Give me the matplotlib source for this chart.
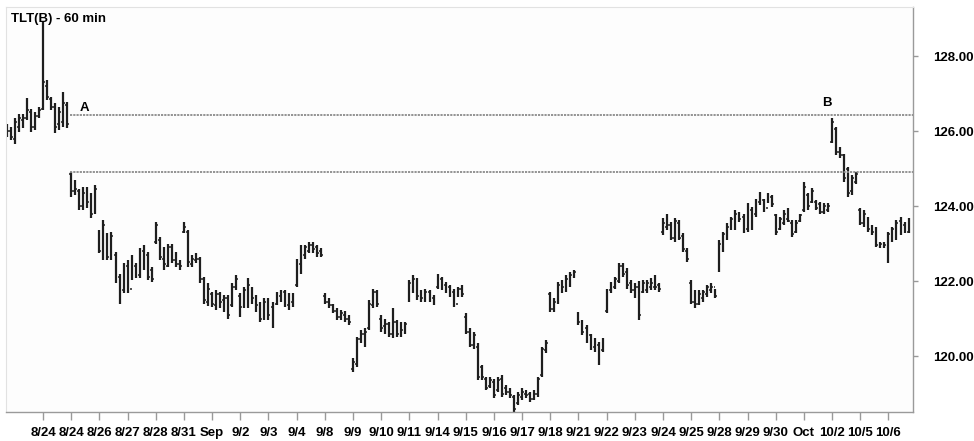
import numpy as np
import matplotlib
matplotlib.use("Agg")
import matplotlib.pyplot as plt

plt.rcParams['font.family'] = ['Liberation Sans', 'DejaVu Sans']

# hourly bars (7 bars per session)
highs = [
    126.20, 126.10, 126.35, 126.45, 126.45, 126.87, 126.60, 126.50, 126.65,
    128.94, 127.36, 126.92, 126.74, 126.65, 127.05, 126.78,
    124.92, 124.70, 124.45, 124.50, 124.50, 124.35, 124.56,
    123.36, 123.63, 123.27, 123.32, 122.78, 122.20, 122.47,
    122.56, 122.69, 122.47, 122.87, 122.96, 122.78, 122.38,
    123.58, 123.18, 122.91, 123.00, 123.00, 122.78, 122.56,
    123.58, 123.36, 122.69, 122.74, 122.65, 122.11, 121.94,
    121.72, 121.76, 121.72, 121.63, 121.63, 121.94, 122.16,
    121.67, 121.85, 122.07, 121.85, 121.63, 121.45, 121.54,
    121.54, 121.45, 121.72, 121.76, 121.76, 121.67, 121.67,
    122.60, 122.96, 122.96, 123.05, 123.05, 122.96, 122.87,
    121.67, 121.54, 121.40, 121.27, 121.23, 121.20, 121.10,
    119.94, 120.52, 120.69, 120.74, 121.49, 121.80, 121.76,
    121.09, 121.00, 120.92, 121.27, 120.96, 120.92, 120.92,
    122.03, 122.16, 122.07, 121.76, 121.80, 121.76, 121.63,
    122.20, 122.12, 121.98, 121.90, 121.80, 121.85, 121.90,
    121.14, 120.74, 120.65, 120.34, 119.76, 119.45, 119.45,
    119.40, 119.45, 119.49, 119.23, 119.14, 118.96, 119.05,
    119.14, 119.09, 119.05, 119.09, 119.45, 120.25, 120.43,
    121.72, 121.54, 121.98, 122.03, 122.16, 122.25, 122.29,
    121.18, 120.96, 120.83, 120.60, 120.47, 120.38, 120.47,
    121.80, 121.98, 122.12, 122.47, 122.47, 122.34, 122.03,
    121.94, 122.00, 122.03, 122.03, 122.07, 122.16, 121.94,
    123.67, 123.80, 123.58, 123.67, 123.62, 123.27, 122.87,
    122.03, 121.76, 121.76, 121.76, 121.90, 121.94, 121.80,
    123.09, 123.32, 123.54, 123.72, 123.89, 123.85, 123.80,
    124.07, 123.98, 124.20, 124.38, 124.20, 124.34, 124.29,
    123.80, 123.72, 123.89, 123.94, 123.62, 123.62, 123.80,
    124.65, 124.34, 124.47, 124.16, 124.12, 124.07, 124.07,
    126.34, 126.12, 125.58, 125.40, 125.05, 124.83, 124.92,
    123.94, 123.89, 123.72, 123.49, 123.45, 123.05, 123.05,
    123.32, 123.45, 123.63, 123.72, 123.58, 123.67,
]
lows = [
    125.85, 125.75, 125.65, 125.98, 126.07, 126.30, 125.98, 126.03, 126.34,
    126.56, 126.83, 126.56, 125.94, 126.03, 126.12, 126.07,
    124.25, 124.30, 123.90, 123.90, 123.95, 123.67, 123.80,
    122.74, 122.56, 122.56, 122.56, 121.94, 121.40, 121.67,
    121.67, 122.03, 122.07, 122.07, 122.29, 122.03, 121.98,
    123.00, 122.56, 122.29, 122.38, 122.47, 122.38, 122.29,
    123.27, 122.38, 122.38, 122.47, 121.94, 121.40, 121.33,
    121.31, 121.23, 121.27, 121.18, 121.00, 121.31, 121.76,
    121.05, 121.27, 121.27, 121.40, 121.18, 120.92, 120.96,
    120.96, 120.74, 121.36, 121.45, 121.31, 121.23, 121.31,
    121.85, 122.20, 122.60, 122.74, 122.74, 122.65, 122.65,
    121.40, 121.27, 121.14, 120.96, 120.96, 120.90, 120.83,
    119.58, 119.72, 120.34, 120.25, 120.69, 121.27, 121.31,
    120.65, 120.60, 120.52, 120.47, 120.52, 120.52, 120.60,
    121.45, 121.67, 121.49, 121.45, 121.45, 121.45, 121.36,
    121.80, 121.76, 121.67, 121.58, 121.31, 121.58, 121.58,
    120.60, 120.25, 120.20, 119.36, 119.36, 119.09, 119.14,
    118.87, 119.05, 118.92, 118.96, 118.87, 118.50, 118.70,
    118.83, 118.87, 118.78, 118.83, 118.92, 119.45, 120.07,
    121.18, 121.18, 121.40, 121.67, 121.72, 121.85, 122.07,
    120.83, 120.56, 120.34, 120.16, 120.12, 119.76, 120.12,
    121.14, 121.67, 121.80, 121.94, 122.12, 121.80, 121.67,
    121.55, 120.96, 121.67, 121.67, 121.76, 121.76, 121.72,
    123.23, 123.36, 123.09, 123.05, 123.09, 122.78, 122.52,
    121.40, 121.27, 121.36, 121.45, 121.58, 121.67, 121.54,
    122.25, 122.78, 123.09, 123.36, 123.36, 123.58, 123.27,
    123.32, 123.36, 123.72, 124.03, 123.85, 124.07, 123.98,
    123.23, 123.36, 123.49, 123.58, 123.18, 123.27, 123.58,
    123.85, 123.89, 124.07, 123.89, 123.80, 123.80, 123.85,
    125.67, 125.36, 125.27, 124.65, 124.25, 124.29, 124.60,
    123.49, 123.45, 123.32, 123.23, 122.91, 122.87, 122.87,
    122.47, 123.05, 123.09, 123.23, 123.27, 123.27,
]
opens = [
    126.10, 126.00, 125.80, 126.10, 126.30, 126.35, 126.50, 126.10, 126.40,
    126.60, 127.20, 126.85, 126.65, 126.20, 126.25, 126.70,
    124.85, 124.40, 124.40, 124.00, 124.40, 124.20, 123.85,
    123.30, 122.80, 123.20, 122.70, 122.70, 122.10, 121.75,
    122.40, 121.80, 122.40, 122.15, 122.80, 122.70, 122.30,
    123.05, 123.10, 122.60, 122.40, 122.90, 122.55, 122.45,
    123.30, 123.30, 122.45, 122.55, 122.60, 122.05, 121.45,
    121.65, 121.35, 121.65, 121.50, 121.55, 121.35, 121.85,
    121.60, 121.35, 121.40, 121.80, 121.55, 121.40, 121.00,
    121.45, 121.30, 121.40, 121.60, 121.70, 121.35, 121.45,
    121.90, 122.45, 122.70, 122.80, 122.95, 122.90, 122.80,
    121.60, 121.45, 121.35, 121.20, 121.05, 121.10, 121.00,
    119.65, 119.80, 120.45, 120.60, 120.75, 121.35, 121.70,
    121.00, 120.80, 120.85, 120.60, 120.90, 120.60, 120.65,
    121.50, 121.90, 122.00, 121.60, 121.55, 121.70, 121.55,
    121.85, 122.05, 121.90, 121.85, 121.70, 121.40, 121.80,
    121.05, 120.65, 120.30, 120.25, 119.70, 119.40, 119.20,
    119.30, 119.10, 119.40, 119.15, 119.05, 118.90, 118.75,
    118.90, 119.00, 119.00, 118.85, 119.00, 119.50, 120.15,
    121.65, 121.25, 121.45, 121.75, 121.80, 121.95, 122.15,
    121.10, 120.90, 120.75, 120.55, 120.25, 120.30, 120.15,
    121.20, 121.75, 121.85, 122.00, 122.40, 122.25, 121.95,
    121.75, 121.85, 121.70, 121.75, 121.85, 121.85, 121.90,
    123.30, 123.45, 123.50, 123.15, 123.55, 123.20, 122.80,
    121.95, 121.45, 121.40, 121.55, 121.65, 121.75, 121.85,
    122.30, 122.90, 123.15, 123.40, 123.45, 123.75, 123.70,
    123.40, 123.90, 123.80, 124.10, 124.15, 123.95, 124.25,
    123.75, 123.40, 123.55, 123.65, 123.55, 123.30, 123.60,
    123.90, 124.30, 124.10, 124.10, 124.05, 123.85, 123.90,
    125.70, 126.05, 125.45, 125.35, 125.00, 124.40, 124.65,
    123.90, 123.55, 123.65, 123.40, 123.40, 122.95, 122.95,
    122.95, 123.10, 123.15, 123.60, 123.50, 123.30,
]
closes = [
    126.00, 125.85, 126.25, 126.35, 126.35, 126.55, 126.10, 126.40, 126.55,
    127.30, 126.90, 126.65, 126.10, 126.50, 126.75, 126.20,
    124.40, 124.45, 124.00, 124.35, 124.10, 123.80, 124.45,
    122.80, 123.50, 122.65, 123.20, 122.05, 121.50, 122.40,
    121.75, 122.55, 122.15, 122.80, 122.70, 122.10, 122.05,
    123.50, 122.65, 122.45, 122.90, 122.55, 122.45, 122.40,
    123.45, 122.50, 122.60, 122.60, 122.05, 121.50, 121.80,
    121.40, 121.65, 121.45, 121.55, 121.10, 121.85, 122.05,
    121.30, 121.75, 121.90, 121.55, 121.35, 121.00, 121.45,
    121.10, 120.90, 121.65, 121.70, 121.40, 121.55, 121.60,
    122.50, 122.85, 122.90, 122.95, 122.85, 122.75, 122.70,
    121.45, 121.35, 121.20, 121.05, 121.15, 121.00, 120.90,
    119.85, 120.45, 120.60, 120.65, 121.40, 121.70, 121.40,
    120.75, 120.85, 120.60, 120.90, 120.60, 120.70, 120.85,
    121.95, 122.05, 121.60, 121.55, 121.70, 121.55, 121.45,
    122.10, 121.85, 121.75, 121.65, 121.40, 121.80, 121.65,
    120.65, 120.30, 120.55, 119.45, 119.45, 119.15, 119.35,
    118.95, 119.35, 119.00, 119.05, 118.95, 118.60, 118.95,
    119.05, 118.95, 118.85, 119.00, 119.40, 120.20, 120.35,
    121.25, 121.45, 121.90, 121.85, 122.05, 122.15, 122.25,
    120.90, 120.65, 120.45, 120.25, 120.35, 119.90, 120.40,
    121.70, 121.90, 122.05, 122.40, 122.20, 121.90, 121.75,
    121.85, 121.10, 121.95, 121.95, 121.95, 121.85, 121.80,
    123.55, 123.50, 123.15, 123.60, 123.15, 122.85, 122.60,
    121.45, 121.40, 121.65, 121.70, 121.85, 121.85, 121.60,
    123.00, 123.25, 123.45, 123.65, 123.80, 123.65, 123.35,
    123.95, 123.45, 124.15, 124.30, 123.90, 124.25, 124.05,
    123.30, 123.65, 123.80, 123.60, 123.25, 123.55, 123.75,
    124.50, 124.00, 124.40, 123.95, 123.85, 124.00, 124.00,
    126.25, 125.45, 125.35, 124.75, 124.35, 124.75, 124.85,
    123.55, 123.80, 123.40, 123.30, 122.95, 123.00, 122.95,
    123.25, 123.40, 123.55, 123.35, 123.35, 123.60,
]

day_labels = ['8/24', '8/24', '8/26', '8/27', '8/28', '8/31', 'Sep', '9/2', '9/3',
              '9/4', '9/8', '9/9', '9/10', '9/11', '9/14', '9/15', '9/16', '9/17',
              '9/18', '9/21', '9/22', '9/23', '9/24', '9/25', '9/28', '9/29',
              '9/30', 'Oct', '10/2', '10/5', '10/6']
first_day_bar = 9
bars_per_day = 7

level_a = 126.44
level_b = 124.91
y_ticks = [120, 122, 124, 126, 128]

x = np.arange(len(highs))
day_ticks = first_day_bar + bars_per_day * np.arange(len(day_labels))

fig = plt.figure(figsize=(9.74, 4.41), dpi=100)
ax = fig.add_axes([6 / 974, 1 - 412 / 441, (913 - 6) / 974, (412 - 7) / 441])
ax.set_facecolor('#fdfdfd')
fig.patch.set_facecolor('white')

bar_col = '#1e1e1e'
ax.vlines(x, lows, highs, color=bar_col, lw=1.6)
ax.hlines(opens, x - 0.45, x, color=bar_col, lw=1.1)
ax.hlines(closes, x, x + 0.45, color=bar_col, lw=1.1)

x_right = len(highs) + 0.1
ax.hlines([level_a, level_b], 15.6, x_right, color='#8a8a8a', lw=1.3,
          linestyles=(0, (1.2, 0.6)))

ax.text(18.0, 126.62, 'A', fontsize=9.5, fontweight='bold', ha='left', va='center')
ax.text(203.8, 126.75, 'B', fontsize=9.5, fontweight='bold', ha='center', va='center')
ax.text(0.006, 0.985, 'TLT(B) - 60 min', transform=ax.transAxes, fontsize=9.5,
        fontweight='bold', ha='left', va='top')

ax.set_xlim(-0.2, x_right)
ax.set_ylim(118.507, 129.307)

ax.set_xticks(day_ticks)
ax.set_xticklabels(day_labels, fontsize=9.5, fontweight='bold')
ax.yaxis.tick_right()
ax.set_yticks(y_ticks)
ax.set_yticklabels([f'{v:.2f}' for v in y_ticks], fontsize=9.5, fontweight='bold')
ax.tick_params(axis='x', direction='out', length=6, width=1, color='#999999', pad=5)
ax.tick_params(axis='y', direction='out', length=3.5, width=1, color='#999999', pad=11)

for side in ['top', 'left']:
    ax.spines[side].set_color('#e2e2e2')
for side in ['bottom', 'right']:
    ax.spines[side].set_color('#9a9a9a')
    ax.spines[side].set_linewidth(1.0)

fig.savefig('out.png', dpi=100)
